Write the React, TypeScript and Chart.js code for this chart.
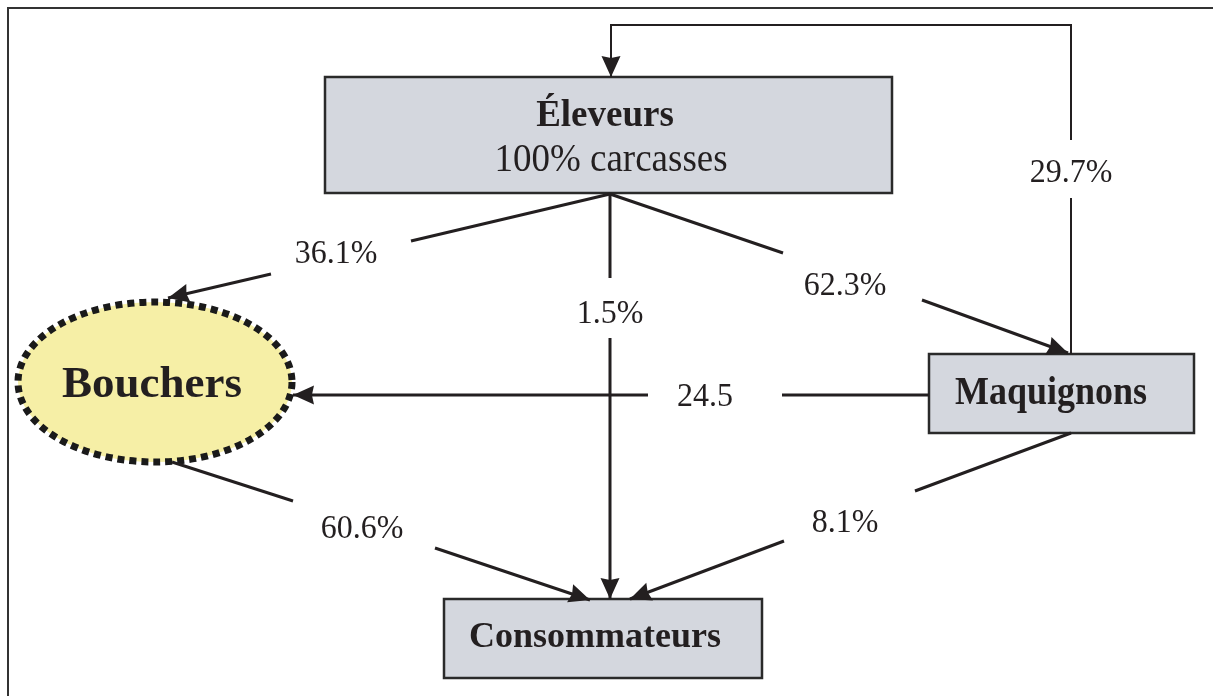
import React, { useEffect, useRef } from "react";
import { Chart, registerables } from "chart.js";

Chart.register(...registerables);

// ---- Data ----
const nodeNames = ["Éleveurs", "Bouchers", "Maquignons", "Consommateurs"];
const nodeSubtitles = ["100% carcasses", "", "", ""];
const flowLabels = ["36.1%", "1.5%", "62.3%", "29.7%", "24.5", "60.6%", "8.1%"];

// ---- Layout (diagram units = pixels of the reference) ----
// boxes: [left, top, right, bottom]; Bouchers is an ellipse [cx, cy, rx, ry]
const boxRects: number[][] = [
  [325, 77, 892, 193],
  [155, 382, 137, 80],
  [929, 354, 1194, 433],
  [444, 599, 762, 678],
];
const nodeShapes = ["box", "ellipse", "box", "box"];
const nodeTextPos: number[][] = [
  [605, 126],
  [152, 397],
  [1051, 404],
  [595, 647],
];
const nodeFontSizes = [37, 45, 36, 36];
const nodeStretch = [1, 1, 1.12, 1];
const subTextPos: number[][] = [[611, 171], [0, 0], [0, 0], [0, 0]];
const subStretch = [1.08, 1, 1, 1];

// each flow: lead segment (no arrow) and arrow segment (arrowhead at last point)
const flowLead: number[][][] = [
  [[610, 194], [411, 241]],
  [[610, 194], [610, 278]],
  [[610, 194], [783, 253]],
  [[1071, 354], [1071, 198]],
  [[929, 395], [782, 395]],
  [[172, 462], [293, 501]],
  [[1071, 433], [915, 491]],
];
const flowArrow: number[][][] = [
  [[271, 274], [168, 298]],
  [[610, 338], [610, 599]],
  [[922, 300], [1068, 353]],
  [[1071, 140], [1071, 25], [611, 25], [611, 77]],
  [[648, 395], [293, 395]],
  [[435, 548], [590, 600]],
  [[784, 541], [630, 599]],
];
const flowWidths = [3, 3, 3, 2, 3, 3, 3];
const labelPos: number[][] = [
  [336, 263],
  [610, 323],
  [845, 295],
  [1071, 182],
  [705, 406],
  [362, 538],
  [845, 532],
];

const INK = "#231f20";

export default function App() {
  const ref = useRef<HTMLCanvasElement | null>(null);

  useEffect(() => {
    const canvas = ref.current;
    if (!canvas) return;

    const datasets: any[] = [];
    flowLabels.forEach((_, i) => {
      [flowLead[i], flowArrow[i]].forEach((seg) => {
        datasets.push({
          data: seg.map((p) => ({ x: p[0], y: p[1] })),
          showLine: true,
          borderColor: INK,
          borderWidth: flowWidths[i],
          pointRadius: 0,
          fill: false,
          tension: 0,
          borderJoinStyle: "miter",
          borderCapStyle: "butt",
        });
      });
    });

    const drawText = (ctx: any, txt: string, x: number, y: number, sy: number) => {
      ctx.save();
      ctx.translate(x, y);
      ctx.scale(1, sy);
      ctx.fillText(txt, 0, 0);
      ctx.restore();
    };

    const diagramPlugin = {
      id: "diagram",
      beforeDatasetsDraw(chart: any) {
        const { ctx, scales } = chart;
        const X = (v: number) => scales.x.getPixelForValue(v);
        const Y = (v: number) => scales.y.getPixelForValue(v);
        ctx.save();
        // frame (top and left)
        ctx.strokeStyle = "#333";
        ctx.lineWidth = 2;
        ctx.beginPath();
        ctx.moveTo(X(8), Y(696));
        ctx.lineTo(X(8), Y(8));
        ctx.lineTo(X(1213), Y(8));
        ctx.stroke();

        nodeNames.forEach((_, i) => {
          const r = boxRects[i];
          if (nodeShapes[i] === "box") {
            const x0 = X(r[0]), y0 = Y(r[1]), x1 = X(r[2]), y1 = Y(r[3]);
            ctx.fillStyle = "#d4d7de";
            ctx.fillRect(x0, y0, x1 - x0, y1 - y0);
            ctx.strokeStyle = "#2a2a2a";
            ctx.lineWidth = 2.5;
            ctx.setLineDash([]);
            ctx.strokeRect(x0, y0, x1 - x0, y1 - y0);
          } else {
            const cx = X(r[0]), cy = Y(r[1]);
            const rx = X(r[0] + r[2]) - cx, ry = Y(r[1] + r[3]) - cy;
            ctx.beginPath();
            ctx.ellipse(cx, cy, Math.abs(rx), Math.abs(ry), 0, 0, Math.PI * 2);
            ctx.fillStyle = "#f6efa6";
            ctx.fill();
            ctx.setLineDash([7, 5]);
            ctx.lineWidth = 7;
            ctx.strokeStyle = "#1a1a1a";
            ctx.stroke();
            ctx.setLineDash([]);
          }
        });
        ctx.restore();
      },
      afterDatasetsDraw(chart: any) {
        const { ctx, scales } = chart;
        const X = (v: number) => scales.x.getPixelForValue(v);
        const Y = (v: number) => scales.y.getPixelForValue(v);
        ctx.save();
        // arrowheads
        flowArrow.forEach((seg) => {
          const a = seg[seg.length - 2];
          const b = seg[seg.length - 1];
          const ax = X(a[0]), ay = Y(a[1]), bx = X(b[0]), by = Y(b[1]);
          const ang = Math.atan2(by - ay, bx - ax);
          const L = 21, W = 9.5;
          ctx.beginPath();
          ctx.moveTo(bx, by);
          ctx.lineTo(bx - L * Math.cos(ang) + W * Math.sin(ang), by - L * Math.sin(ang) - W * Math.cos(ang));
          ctx.lineTo(bx - L * 0.9 * Math.cos(ang), by - L * 0.9 * Math.sin(ang));
          ctx.lineTo(bx - L * Math.cos(ang) - W * Math.sin(ang), by - L * Math.sin(ang) + W * Math.cos(ang));
          ctx.closePath();
          ctx.fillStyle = INK;
          ctx.fill();
        });
        // node texts
        ctx.fillStyle = INK;
        ctx.textAlign = "center";
        ctx.textBaseline = "alphabetic";
        nodeNames.forEach((name, i) => {
          ctx.font = `bold ${nodeFontSizes[i]}px "Liberation Serif", "Times New Roman", serif`;
          drawText(ctx, name, X(nodeTextPos[i][0]), Y(nodeTextPos[i][1]), nodeStretch[i]);
          if (nodeSubtitles[i]) {
            ctx.font = `${nodeFontSizes[i]}px "Liberation Serif", "Times New Roman", serif`;
            drawText(ctx, nodeSubtitles[i], X(subTextPos[i][0]), Y(subTextPos[i][1]), subStretch[i]);
          }
        });
        // flow labels
        ctx.font = `32px "Liberation Serif", "Times New Roman", serif`;
        flowLabels.forEach((lab, i) => {
          drawText(ctx, lab, X(labelPos[i][0]), Y(labelPos[i][1]), 1.05);
        });
        ctx.restore();
      },
    };

    const chart = new Chart(canvas, {
      type: "scatter",
      data: { datasets },
      options: {
        animation: false,
        responsive: false,
        events: [],
        layout: { padding: 0 },
        plugins: { legend: { display: false }, tooltip: { enabled: false } },
        scales: {
          x: { type: "linear", min: 0, max: 1213, display: false },
          y: { type: "linear", min: 0, max: 696, reverse: true, display: false },
        },
      },
      plugins: [diagramPlugin],
    } as any);

    return () => chart.destroy();
  }, []);

  return (
    <div style={{ position: "fixed", left: 0, top: 0, width: 1213, height: 696, background: "#fff" }}>
      <canvas ref={ref} width={1213} height={696} style={{ display: "block" }} />
    </div>
  );
}
